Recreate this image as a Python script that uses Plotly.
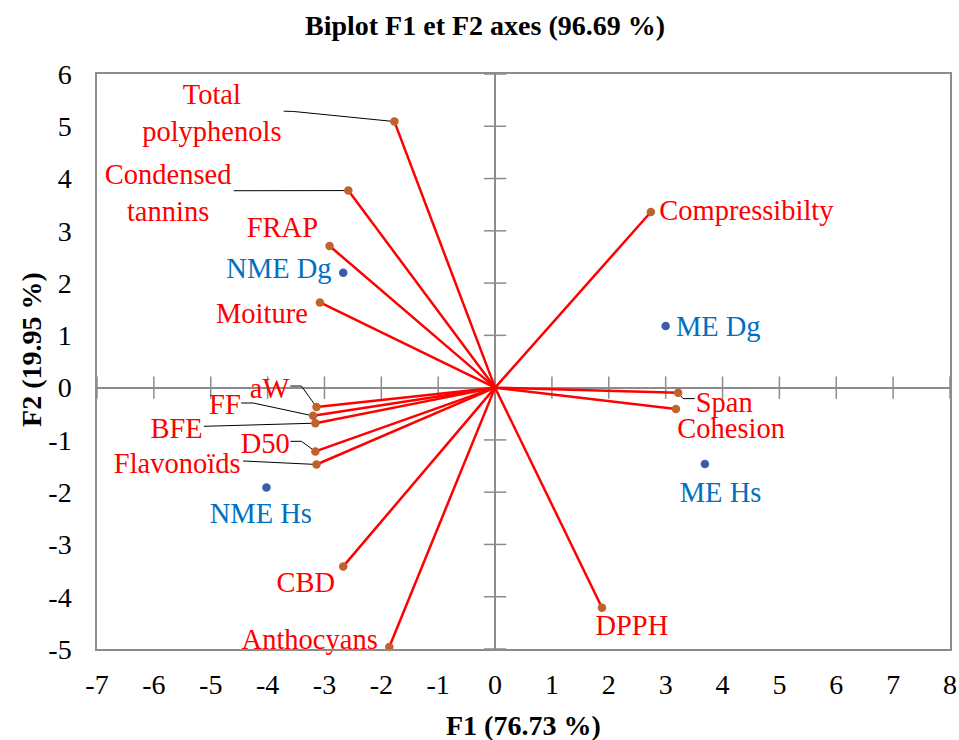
import plotly.graph_objects as go

# ---------------- data ----------------
variables = ["Total<br>polyphenols", "Condensed<br>tannins", "FRAP", "Moiture", "aW", "FF", "BFE",
             "D50", "Flavonoïds", "CBD", "Anthocyans", "Compressibilty", "Span", "Cohesion", "DPPH"]
var_f1 = [-1.77, -2.58, -2.91, -3.08, -3.14, -3.20, -3.16, -3.16, -3.14, -2.67, -1.86, 2.74, 3.22, 3.18, 1.88]
var_f2 = [5.09, 3.77, 2.71, 1.63, -0.37, -0.54, -0.68, -1.22, -1.47, -3.42, -4.96, 3.36, -0.10, -0.41, -4.21]

observations = ["NME Dg", "NME Hs", "ME Dg", "ME Hs"]
obs_f1 = [-2.67, -4.02, 3.00, 3.69]
obs_f2 = [2.20, -1.91, 1.18, -1.46]

x_ticks = [-7, -6, -5, -4, -3, -2, -1, 0, 1, 2, 3, 4, 5, 6, 7, 8]
x_tick_labels = ["-7", "-6", "-5", "-4", "-3", "-2", "-1", "0", "1", "2", "3", "4", "5", "6", "7", "8"]
y_ticks = [-5, -4, -3, -2, -1, 0, 1, 2, 3, 4, 5, 6]
y_tick_labels = ["-5", "-4", "-3", "-2", "-1", "0", "1", "2", "3", "4", "5", "6"]

# ---------------- label layout (positions in axis units) ----------------
var_label_x = [-4.98, -5.75, -3.74, -4.10, -3.965, -4.75, -5.60, -4.04, -5.59, -3.33, -3.26, 4.42, 4.03, 4.15, 2.405]
var_label_y = [5.20, 3.68, 3.01, 1.37, -0.06, -0.37, -0.82, -1.12, -1.50, -3.78, -4.86, 3.335, -0.33, -0.83, -4.605]
obs_label_x = [-3.80, -4.12, 3.925, 3.965]
obs_label_y = [2.24, -2.46, 1.12, -2.05]

# leader lines: label-side points, ending at the variable point
leaders = {
    "Total<br>polyphenols": [(-3.717, 5.289), (-3.542, 5.283)],
    "Condensed<br>tannins": [(-4.595, 3.767)],
    "aW": [(-3.600, 0.031), (-3.406, 0.031)],
    "FF": [(-4.465, -0.294), (-4.255, -0.294)],
    "BFE": [(-5.122, -0.740)],
    "D50": [(-3.600, -1.027), (-3.406, -1.027)],
    "Flavonoïds": [(-4.430, -1.403)],
    "Span": [(3.512, -0.210), (3.306, -0.210)],
}

FONT = "Liberation Serif, Times New Roman, serif"
GRAY = "#8c8c8c"
RED = "#ff0000"
BROWN = "#c0622a"
BLUE_DOT = "#3b5da8"
BLUE_TXT = "#0070c0"

fig = go.Figure()

# tick marks on the zero lines (cross style)
fig.add_trace(go.Scatter(x=x_ticks, y=[0] * len(x_ticks), mode="markers", hoverinfo="skip",
                         marker=dict(symbol="line-ns", size=16, line=dict(color=GRAY, width=1.5)),
                         showlegend=False))
fig.add_trace(go.Scatter(x=[0] * len(y_ticks), y=y_ticks, mode="markers", hoverinfo="skip",
                         marker=dict(symbol="line-ew", size=16, line=dict(color=GRAY, width=1.5)),
                         showlegend=False))

# leader lines
lx, ly = [], []
for i, name in enumerate(variables):
    if name in leaders:
        for (px, py) in leaders[name]:
            lx.append(px)
            ly.append(py)
        lx.append(var_f1[i])
        ly.append(var_f2[i])
        lx.append(None)
        ly.append(None)
fig.add_trace(go.Scatter(x=lx, y=ly, mode="lines", line=dict(color="black", width=1),
                         hoverinfo="skip", showlegend=False))

# vectors
vx, vy = [], []
for a, b in zip(var_f1, var_f2):
    vx += [0, a, None]
    vy += [0, b, None]
fig.add_trace(go.Scatter(x=vx, y=vy, mode="lines", line=dict(color=RED, width=2.5),
                         hoverinfo="skip", showlegend=False))

# variable points
fig.add_trace(go.Scatter(x=var_f1, y=var_f2, mode="markers", cliponaxis=False,
                         marker=dict(color=BROWN, size=8.5), showlegend=False))
# observation points
fig.add_trace(go.Scatter(x=obs_f1, y=obs_f2, mode="markers", cliponaxis=False,
                         marker=dict(color=BLUE_DOT, size=8.5), showlegend=False))

# labels
fig.add_trace(go.Scatter(x=var_label_x, y=var_label_y, mode="text", text=variables,
                         textposition="middle center", cliponaxis=False,
                         textfont=dict(family=FONT, size=28.5, color=RED),
                         hoverinfo="skip", showlegend=False))
fig.add_trace(go.Scatter(x=obs_label_x, y=obs_label_y, mode="text", text=observations,
                         textposition="middle center", cliponaxis=False,
                         textfont=dict(family=FONT, size=28.5, color=BLUE_TXT),
                         hoverinfo="skip", showlegend=False))

axis_common = dict(showgrid=False, zeroline=True, zerolinecolor=GRAY, zerolinewidth=1.5,
                   showline=True, mirror=True, linecolor=GRAY, linewidth=1.5, automargin=False,
                   ticks="", tickfont=dict(family=FONT, size=28, color="black"))

fig.update_layout(
    width=959, height=740,
    margin=dict(l=97, r=9, t=74, b=91, autoexpand=False),
    paper_bgcolor="white", plot_bgcolor="white",
    title=dict(text="Biplot F1 et F2 axes (96.69 %)", x=485 / 959, xanchor="center",
               y=1 - 25.5 / 740, yanchor="middle", yref="container",
               font=dict(family=FONT, size=28, color="black", weight="bold")),
    xaxis=dict(range=[-7, 8], tickvals=x_ticks, ticktext=x_tick_labels,
               ticklabelstandoff=10, **axis_common),
    yaxis=dict(range=[-5, 6], tickvals=y_ticks, ticktext=y_tick_labels,
               ticklabelstandoff=18, **axis_common),
    annotations=[
        dict(text="F1 (76.73 %)", xref="paper", yref="paper", x=0.5, y=(649 - 725) / 575,
             xanchor="center", yanchor="middle", showarrow=False,
             font=dict(family=FONT, size=28, color="black", weight="bold")),
        dict(text="F2 (19.95 %)", xref="paper", yref="paper", x=(31 - 97) / 852.5, y=(649 - 349) / 575,
             xanchor="center", yanchor="middle", showarrow=False, textangle=-90,
             font=dict(family=FONT, size=28, color="black", weight="bold")),
    ],
)

fig.write_html("out.html", config={"displayModeBar": False},
               post_script="document.body.style.margin='0';document.body.style.overflow='hidden';")
